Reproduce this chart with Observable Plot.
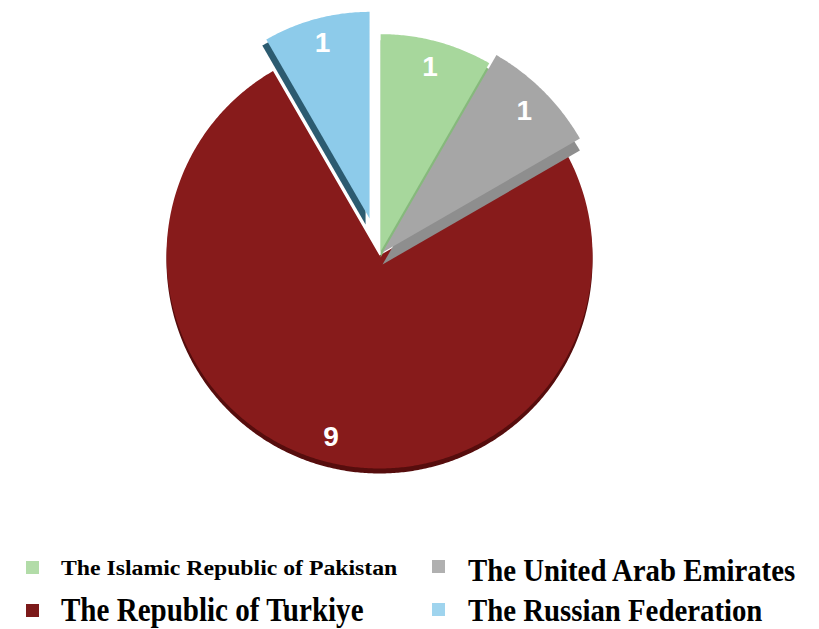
<!DOCTYPE html>
<html>
<head>
<meta charset="utf-8">
<script src="https://cdn.jsdelivr.net/npm/d3@7"></script>
<script src="https://cdn.jsdelivr.net/npm/@observablehq/plot@0.6"></script>
<style>
  html, body { margin: 0; padding: 0; background: #fff; }
  #chart { width: 819px; }
  svg { display: block; }
</style>
</head>
<body>
<div id="chart"></div>
<script>
// ---- data ----
const countries = [
  "The Islamic Republic of Pakistan",
  "The United Arab Emirates",
  "The Republic of Turkiye",
  "The Russian Federation"
];
const counts = [1, 1, 9, 1];

// ---- styles (per slice, in data order) ----
const topColors  = ["#a7d79c", "#a6a6a6", "#871b1b", "#8dcbea"];
const sideColors = ["#86b97c", "#8e8e8e", "#560d0d", "#2c5b70"];
const swatchColors = ["#b2dca8", "#b0b0b0", "#7c1a1a", "#9fd4ee"];
const explode = [0.02, 0.02, 0, 0.18];
const radiusK = [1.02, 1.07, 1.0, 0.97];
const depthPx = [6, 12, 5, 6];
const sideDx  = [0, 0, 0, -4];

const W = 819, H = 540, R = 213, cx = 379, cy = 255;
const rad = Math.PI / 180;
const total = d3.sum(counts);

// angles (degrees clockwise from 12 o'clock)
let acc = 0;
const slices = countries.map((name, i) => {
  const a0 = acc / total * 360;
  acc += counts[i];
  const a1 = acc / total * 360;
  const mid = (a0 + a1) / 2;
  return {name, value: counts[i], i, a0, a1, mid,
          ox: explode[i] * Math.sin(mid * rad), oy: explode[i] * Math.cos(mid * rad), r: radiusK[i]};
});

function poly(s, dx, dy) {
  const pts = [{x: s.ox + dx, y: s.oy + dy}];
  for (let t = s.a0; t <= s.a1 + 1e-9; t += 0.5) {
    pts.push({x: s.ox + dx + s.r * Math.sin(t * rad), y: s.oy + dy + s.r * Math.cos(t * rad)});
  }
  pts.push({x: s.ox + dx, y: s.oy + dy});
  return pts;
}

const order = [2, 0, 1, 3]; // draw order: Turkiye, Pakistan, UAE, Russia
const marks = [];
for (const i of order) {
  const s = slices[i];
  marks.push(Plot.line(poly(s, sideDx[i] / R, -depthPx[i] / R), {x: "x", y: "y", fill: sideColors[i], stroke: "none"}));
  marks.push(Plot.line(poly(s, 0, 0), {x: "x", y: "y", fill: topColors[i], stroke: "none"}));
}
const labelK = 0.88;
marks.push(Plot.text(slices, {
  x: s => s.ox + labelK * s.r * Math.sin(s.mid * rad),
  y: s => s.oy + labelK * s.r * Math.cos(s.mid * rad),
  text: s => String(s.value),
  fill: "#fff",
  fontSize: 28,
  fontWeight: "bold",
  fontFamily: "Liberation Sans, Arial, sans-serif"
}));

const chart = Plot.plot({
  width: W, height: H,
  margin: 0,
  x: {domain: [-cx / R, (W - cx) / R], axis: null},
  y: {domain: [-(H - cy) / R, cy / R], axis: null},
  marks
});
document.getElementById("chart").appendChild(chart);

// ---- legend below ----
const legendItems = [
  {i: 0, sx: 26, sy: 21, tx: 61, ty: 35, fs: 22, k: 1.08},
  {i: 1, sx: 432, sy: 20, tx: 468, ty: 41, fs: 32, k: 0.90},
  {i: 2, sx: 26, sy: 64, tx: 61, ty: 81, fs: 33, k: 0.88},
  {i: 3, sx: 432, sy: 63, tx: 468, ty: 81, fs: 32, k: 0.90}
];
const leg = d3.select("#chart").append("svg")
  .attr("width", W).attr("height", 629 - H);
leg.selectAll("rect").data(legendItems).join("rect")
  .attr("x", d => d.sx).attr("y", d => d.sy)
  .attr("width", 13).attr("height", 13)
  .attr("fill", d => swatchColors[d.i]);
leg.selectAll("text").data(legendItems).join("text")
  .attr("transform", d => `translate(${d.tx},${d.ty}) scale(${d.k},1)`)
  .attr("font-family", "Liberation Serif, Times New Roman, serif")
  .attr("font-weight", "bold")
  .attr("font-size", d => d.fs)
  .attr("fill", "#000")
  .text(d => countries[d.i]);
</script>
</body>
</html>
